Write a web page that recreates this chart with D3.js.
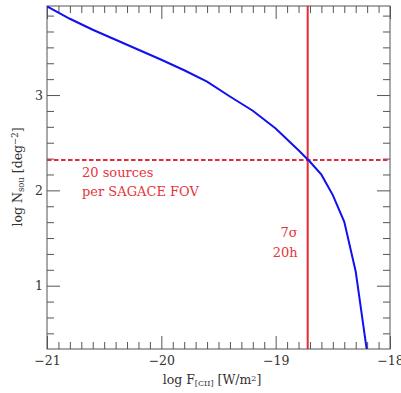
<!DOCTYPE html>
<html>
<head>
<meta charset="utf-8">
<script src="https://cdn.jsdelivr.net/npm/d3@7"></script>
<style>
  body { margin: 0; background: #fff; }
  text { font-family: "DejaVu Serif", "Liberation Serif", serif; }
</style>
</head>
<body>
<div id="chart"></div>
<script>
// log F[CII] vs log N(>F)
const logF = [-21.0, -20.8, -20.6, -20.4, -20.2, -20.0, -19.8, -19.6, -19.4, -19.2, -19.0, -18.8, -18.7, -18.6, -18.5, -18.4, -18.3, -18.2];
const logN = [3.93, 3.80, 3.685, 3.58, 3.475, 3.37, 3.26, 3.14, 2.985, 2.835, 2.65, 2.42, 2.30, 2.165, 1.95, 1.67, 1.15, 0.30];

const xMajor = [-21, -20, -19, -18];
const yMajor = [1, 2, 3];
const limitF = -18.72;   // 7 sigma, 20h
const limitN = 2.318;    // 20 sources per SAGACE FOV

const W = 401, H = 393;
const margin = { top: 6, right: 11, bottom: 44, left: 47 };
const width = W - margin.left - margin.right;
const height = H - margin.top - margin.bottom;

const x = d3.scaleLinear().domain([-21, -18]).range([0, width]);
const y = d3.scaleLinear().domain([0.336, 3.934]).range([height, 0]);

const svg = d3.select('#chart').append('svg')
  .attr('width', W).attr('height', H);

const g = svg.append('g')
  .attr('transform', 'translate(' + margin.left + ',' + margin.top + ')');

svg.append('defs').append('clipPath').attr('id', 'clip')
  .append('rect').attr('width', width).attr('height', height);

const xMinor = d3.range(1, 30).map(i => -21 + i / 10).filter(v => Math.abs(v - Math.round(v)) > 1e-6);
const yMinor = d3.range(3, 24).map(k => k / 6).filter(v => Math.abs(v - Math.round(v)) > 1e-6);

const axisColor = '#555';
const labelColor = '#333';

function tickAxis(axis, tr) {
  const a = g.append('g').attr('transform', tr).call(axis);
  a.select('.domain').remove();
  a.selectAll('line').attr('stroke', axisColor);
  a.selectAll('text').attr('fill', labelColor).style('font-size', '12.5px');
  return a;
}

// bottom / top
tickAxis(d3.axisBottom(x).tickValues(xMinor).tickSize(-7).tickFormat(''), 'translate(0,' + height + ')');
tickAxis(d3.axisBottom(x).tickValues(xMajor).tickSize(-13).tickPadding(7)
  .tickFormat(d => '\u2212' + Math.abs(d)), 'translate(0,' + height + ')');
tickAxis(d3.axisTop(x).tickValues(xMinor).tickSize(-7).tickFormat(''), 'translate(0,0)');
tickAxis(d3.axisTop(x).tickValues(xMajor).tickSize(-13).tickFormat(''), 'translate(0,0)');

// left / right
tickAxis(d3.axisLeft(y).tickValues(yMinor).tickSize(-7).tickFormat(''), 'translate(0,0)');
tickAxis(d3.axisLeft(y).tickValues(yMajor).tickSize(-13).tickPadding(4).tickFormat(d3.format('d')), 'translate(0,0)');
tickAxis(d3.axisRight(y).tickValues(yMinor).tickSize(-7).tickFormat(''), 'translate(' + width + ',0)');
tickAxis(d3.axisRight(y).tickValues(yMajor).tickSize(-13).tickFormat(''), 'translate(' + width + ',0)');

// frame
g.append('rect')
  .attr('width', width).attr('height', height)
  .attr('fill', 'none').attr('stroke', axisColor).attr('stroke-width', 1);

const red = '#e52a33';

// limit lines
g.append('line')
  .attr('x1', 0).attr('x2', width)
  .attr('y1', y(limitN)).attr('y2', y(limitN))
  .attr('stroke', red).attr('stroke-width', 2)
  .attr('stroke-dasharray', '4.5,2.5');

g.append('line')
  .attr('x1', x(limitF)).attr('x2', x(limitF))
  .attr('y1', 0).attr('y2', height)
  .attr('stroke', red).attr('stroke-width', 2);

// counts curve
const line = d3.line().x((d, i) => x(logF[i])).y(d => y(d));
g.append('path')
  .datum(logN)
  .attr('clip-path', 'url(#clip)')
  .attr('d', line)
  .attr('fill', 'none')
  .attr('stroke', '#1010f0')
  .attr('stroke-width', 2);

// annotations
const ann = g.append('g').attr('fill', '#e6343c').style('font-size', '13px');
ann.append('text').attr('x', 35).attr('y', 171).text('20 sources');
ann.append('text').attr('x', 35).attr('y', 190).text('per SAGACE FOV');
ann.append('text').attr('x', x(limitF) - 10).attr('y', 231).attr('text-anchor', 'end')
  .text('7\u03c3');
ann.append('text').attr('x', x(limitF) - 10).attr('y', 251).attr('text-anchor', 'end')
  .text('20h');

// axis titles
const xt = svg.append('text')
  .attr('x', 212).attr('y', 384)
  .attr('text-anchor', 'middle')
  .attr('fill', labelColor)
  .style('font-size', '12.5px');
xt.append('tspan').text('log F');
xt.append('tspan').attr('baseline-shift', '-25%').style('font-size', '8px').text('[CII]');
xt.append('tspan').text(' [W/m');
xt.append('tspan').attr('baseline-shift', '40%').style('font-size', '8px').text('2');
xt.append('tspan').text(']');

const yt = svg.append('text')
  .attr('transform', 'translate(22,177) rotate(-90)')
  .attr('text-anchor', 'middle')
  .attr('fill', labelColor)
  .style('font-size', '12.5px');
yt.append('tspan').text('log N');
yt.append('tspan').attr('baseline-shift', '-25%').style('font-size', '8.5px').text('sou');
yt.append('tspan').text(' [deg');
yt.append('tspan').attr('baseline-shift', '40%').style('font-size', '8.5px').text('\u22122');
yt.append('tspan').text(']');
</script>
</body>
</html>
